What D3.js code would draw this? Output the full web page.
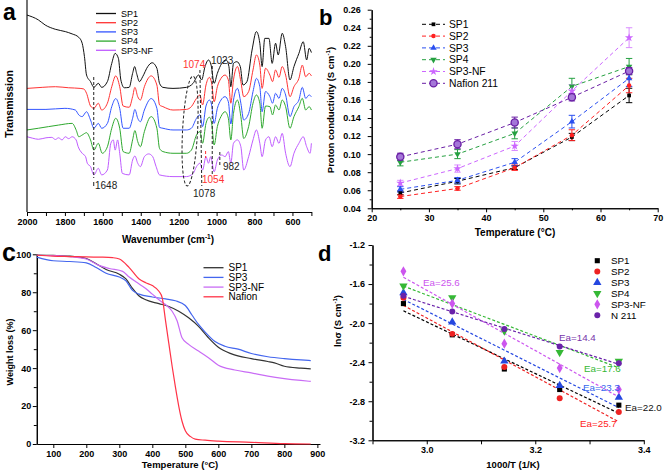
<!DOCTYPE html>
<html><head><meta charset="utf-8">
<script src="https://cdn.jsdelivr.net/npm/d3@7"></script>
<style>body{margin:0;background:#fff;} svg{display:block;}</style>
</head><body><svg id="chart" width="664" height="473"></svg>
<script>
// ---------------- DATA ----------------
// (a) FTIR spectra: [wavenumber cm-1, transmission (arb. units)]
const ftirSP1 = [[2000,92.9],[1940,90.6],[1904,88.2],[1851,86.2],[1798,85.1],[1762,84.0],[1727,82.4],[1709,79.6],[1697,73.3],[1686,64.6],[1665,61.5],[1647,58.8],[1624,60.7],[1606,58.8],[1576,61.5],[1553,70.1],[1535,74.8],[1518,72.5],[1505,62.3],[1487,58.6],[1461,58.8],[1443,65.4],[1432,68.6],[1422,65.4],[1407,61.5],[1390,63.8],[1363,68.6],[1340,70.4],[1315,67.8],[1301,60.7],[1283,58.8],[1230,58.3],[1159,58.8],[1124,60.7],[1095,64.6],[1079,62.3],[1061,68.6],[1043,71.7],[1029,69.3],[1013,60.7],[996,65.4],[973,70.1],[950,71.7],[935,68.6],[925,59.1],[911,70.1],[893,70.9],[875,68.6],[861,59.9],[840,61.5],[813,76.4],[790,85.1],[772,79.6],[760,68.6],[746,81.9],[724,81.9],[707,70.1],[689,79.6],[675,74.1],[654,84.3],[636,78.0],[613,62.3],[592,68.6],[566,74.8],[543,80.3],[525,71.7],[512,77.2],[500,75.2]];
const ftirSP2 = [[2000,58.3],[1920,58.8],[1850,59.1],[1780,58.6],[1720,58.3],[1700,58.0],[1686,56.0],[1665,50.0],[1647,48.9],[1624,51.3],[1606,48.1],[1576,51.3],[1553,59.1],[1532,64.2],[1511,59.1],[1493,50.0],[1461,49.4],[1443,54.4],[1431,58.8],[1416,54.4],[1402,52.8],[1381,59.1],[1345,64.2],[1315,59.9],[1301,50.5],[1283,49.7],[1230,48.1],[1159,48.4],[1133,49.7],[1106,53.6],[1088,55.2],[1074,50.5],[1056,59.9],[1038,63.5],[1026,60.7],[1013,52.0],[996,59.1],[977,63.0],[955,64.6],[938,62.3],[925,51.3],[911,62.3],[890,68.6],[872,61.5],[857,54.4],[831,56.8],[808,67.0],[790,74.1],[772,69.3],[760,58.3],[742,67.8],[719,64.6],[705,61.5],[689,67.0],[671,63.5],[654,68.6],[636,64.6],[613,54.4],[592,59.1],[566,63.0],[548,69.3],[530,63.8],[512,65.4],[500,64.2]];
const ftirSP3 = [[2000,48.4],[1900,48.4],[1800,48.9],[1745,48.1],[1727,45.8],[1709,45.0],[1686,47.3],[1665,43.4],[1647,39.5],[1624,41.8],[1606,39.5],[1576,41.8],[1553,49.7],[1532,53.5],[1511,48.9],[1493,39.5],[1461,39.5],[1443,44.2],[1431,48.4],[1416,44.2],[1402,42.6],[1381,48.1],[1345,53.5],[1315,48.9],[1301,39.9],[1283,39.5],[1230,38.7],[1159,38.7],[1133,39.5],[1106,44.2],[1088,45.8],[1074,40.3],[1056,50.0],[1038,52.8],[1026,50.5],[1013,41.8],[996,48.9],[977,52.8],[955,54.4],[938,52.0],[925,41.5],[911,52.8],[890,58.3],[872,51.3],[857,43.4],[831,46.5],[808,56.8],[790,63.0],[772,59.1],[760,47.3],[742,56.8],[719,54.4],[705,51.3],[689,56.0],[671,53.6],[654,58.3],[636,55.2],[613,45.0],[592,49.7],[566,52.8],[548,58.8],[530,53.6],[512,55.2],[500,54.4]];
const ftirSP4 = [[2000,38.7],[1940,39.5],[1834,41.0],[1762,41.8],[1740,38.5],[1727,35.5],[1709,36.3],[1686,37.4],[1665,34.0],[1647,29.2],[1624,32.4],[1603,27.7],[1576,30.8],[1553,39.5],[1532,44.2],[1511,39.5],[1493,28.5],[1461,27.7],[1443,34.0],[1431,38.4],[1416,33.2],[1402,30.8],[1381,37.9],[1345,45.0],[1315,39.5],[1301,30.0],[1283,28.5],[1230,27.7],[1159,27.7],[1133,29.2],[1106,36.3],[1088,37.9],[1074,32.4],[1056,41.8],[1038,44.7],[1026,41.8],[1013,31.6],[996,40.3],[977,45.0],[955,47.3],[938,44.2],[925,34.0],[911,46.5],[890,52.8],[872,45.0],[857,34.7],[831,40.3],[808,51.3],[790,55.2],[772,51.3],[760,39.5],[742,50.0],[719,49.7],[705,45.8],[689,50.5],[671,48.1],[654,52.8],[636,49.7],[613,39.5],[592,45.0],[566,49.7],[548,53.6],[530,48.1],[512,49.7],[500,48.1]];
const ftirSP3NF = [[2000,35.5],[1970,34.8],[1940,34.3],[1900,35.0],[1869,35.2],[1850,34.2],[1834,35.0],[1815,34.0],[1798,35.5],[1780,34.6],[1762,35.5],[1741,34.0],[1730,30.8],[1709,27.7],[1691,26.1],[1682,23.0],[1665,21.4],[1647,17.5],[1624,20.6],[1606,17.5],[1576,19.8],[1558,32.4],[1545,34.0],[1535,29.2],[1522,34.0],[1511,27.7],[1497,18.2],[1461,17.5],[1443,24.5],[1431,26.4],[1416,23.0],[1402,21.4],[1381,26.1],[1358,27.4],[1337,26.1],[1319,21.4],[1301,17.5],[1230,16.7],[1159,16.7],[1124,18.2],[1106,21.4],[1088,23.0],[1074,19.8],[1056,26.1],[1043,23.0],[1031,26.1],[1013,19.0],[996,24.5],[973,26.9],[955,26.1],[938,28.5],[925,23.0],[911,32.4],[890,34.0],[872,30.8],[857,19.8],[831,26.1],[808,34.0],[790,38.7],[772,32.4],[760,26.1],[742,34.0],[724,35.5],[707,30.8],[689,35.5],[671,32.4],[654,37.1],[636,27.7],[613,21.4],[592,27.7],[566,32.4],[543,35.5],[525,30.8],[507,27.7],[500,32.4]];
const ftirNames = ["SP1","SP2","SP3","SP4","SP3-NF"];
const ftirTickLabels = [2000,1800,1600,1400,1200,1000,800,600];
const ftirMinorTicks = [1900,1700,1500,1300,1100,900,700,500];

// (b) proton conductivity vs temperature
const temps = [25,35,45,55,65];
const condNames = ["SP1","SP2","SP3","SP4","SP3-NF","Nafion 211"];
const condSP1 = [0.057,0.070,0.085,0.119,0.165];
const condSP2 = [0.053,0.062,0.085,0.121,0.176];
const condSP3 = [0.061,0.071,0.091,0.136,0.184];
const condSP4 = [0.091,0.100,0.123,0.175,0.197];
const condSP3NF = [0.068,0.084,0.109,0.170,0.229];
const condN211 = [0.097,0.111,0.135,0.163,0.192];
const errSP1 = [0.002,0.003,0.002,0.004,0.008];
const errSP2 = [0.002,0.002,0.003,0.006,0.008];
const errSP3 = [0.003,0.003,0.004,0.007,0.009];
const errSP4 = [0.004,0.005,0.006,0.009,0.009];
const errSP3NF = [0.003,0.004,0.005,0.007,0.011];
const errN211 = [0.004,0.005,0.006,0.004,0.004];
const condTickLabels = [0.04,0.06,0.08,0.10,0.12,0.14,0.16,0.18,0.20,0.22,0.24,0.26];
const condMinorTicks = [0.05,0.07,0.09,0.11,0.13,0.15,0.17,0.19,0.21,0.23,0.25];
const tempTickLabels = [20,30,40,50,60,70];
const tempMinorTicks = [25,35,45,55,65];

// (c) TGA
const tgaNames = ["SP1","SP3","SP3-NF","Nafion"];
const tgaSP1 = [[50,99.6],[100,99.4],[150,99.0],[200,97.8],[230,95.0],[260,92.0],[300,89.5],[320,87.0],[340,82.0],[360,78.0],[380,76.0],[420,74.0],[450,72.5],[480,70.0],[510,66.5],[540,62.0],[570,56.0],[600,51.0],[640,47.5],[700,45.0],[750,43.5],[770,42.8],[800,41.0],[850,40.0],[880,39.6]];
const tgaSP3 = [[50,98.5],[100,96.6],[150,96.2],[200,95.5],[230,93.0],[260,90.0],[300,88.0],[320,86.0],[340,81.0],[360,79.0],[400,77.5],[440,76.5],[470,75.5],[500,73.0],[520,68.0],[540,63.0],[560,59.0],[590,54.0],[620,51.5],[660,50.0],[700,47.7],[750,46.0],[800,45.0],[850,44.3],[880,44.0]];
const tgaSP3NF = [[50,99.5],[100,99.3],[150,98.8],[200,97.5],[240,94.0],[270,92.5],[310,91.0],[330,88.0],[350,85.5],[380,82.0],[400,79.0],[420,76.0],[440,73.5],[460,70.0],[475,65.0],[490,56.0],[510,52.5],[540,49.0],[570,45.5],[600,41.5],[650,39.0],[700,37.5],[750,35.8],[800,34.5],[850,33.5],[880,33.0]];
const tgaNafion = [[50,99.5],[100,99.0],[150,98.8],[200,98.6],[250,98.5],[280,98.2],[300,97.5],[330,93.0],[360,87.0],[380,85.0],[400,83.5],[420,80.5],[430,77.0],[440,65.0],[450,53.0],[460,41.0],[470,30.0],[480,20.0],[490,12.0],[500,7.0],[515,4.0],[530,2.6],[560,2.0],[600,1.5],[700,0.9],[800,0.2],[880,0.0]];
const tgaXTicks = [100,200,300,400,500,600,700,800,900];
const tgaYTicks = [0,20,40,60,80,100];
const tgaYMinor = [10,30,50,70,90];

// (d) Arrhenius plot
const invT = [2.957,3.047,3.143,3.245,3.354];
const arrNames = ["SP1","SP2","SP3","SP4","SP3-NF","N 211"];
const lnSP1 = [-1.80,-2.12,-2.47,-2.68,-2.84];
const lnSP2 = [-1.74,-2.11,-2.45,-2.77,-2.91];
const lnSP3 = [-1.69,-1.99,-2.39,-2.64,-2.76];
const lnSP4 = [-1.62,-1.74,-2.08,-2.30,-2.39];
const lnSP3NF = [-1.47,-1.80,-2.21,-2.46,-2.68];
const lnN211 = [-1.72,-1.88,-2.06,-2.24,-2.41];
const eaLabels = ["Ea=22.0","Ea=25.7","Ea=23.3","Ea=17.6","Ea=25.6","Ea=14.4"];
const arrYTicks = [-3.2,-2.8,-2.4,-2.0,-1.6,-1.2];
const arrYMinor = [-3.0,-2.6,-2.2,-1.8,-1.4];
const arrXTicks = [3.0,3.2,3.4];
const arrXMinor = [2.9,3.1,3.3];

// ---------------- DRAW ----------------
const FONT = "Arial, 'Liberation Sans', sans-serif";
const svg = d3.select("#chart").attr("font-family", FONT);
svg.append("rect").attr("width",664).attr("height",473).attr("fill","#fff");

function styleAxis(g, fs){
  g.attr("font-family", FONT);
  g.select(".domain").attr("stroke","#000").attr("stroke-width",1.1);
  g.selectAll(".tick line").attr("stroke","#000").attr("stroke-width",1);
  g.selectAll(".tick text").attr("font-size",fs).attr("font-weight","bold").attr("fill","#000");
}
function addText(x,y,txt,opt={}){
  const t = svg.append("text").attr("x",x).attr("y",y).text(txt)
    .attr("font-size",opt.fs||10).attr("fill",opt.color||"#000")
    .attr("font-weight",opt.bold?"bold":"normal")
    .attr("text-anchor",opt.anchor||"start");
  if(opt.rotate) t.attr("transform",`rotate(-90,${x},${y})`);
  return t;
}
function titleWithSup(x,y,pre,sup,post,opt={}){
  const t = svg.append("text").attr("x",x).attr("y",y)
    .attr("font-size",opt.fs||10).attr("font-weight","bold").attr("text-anchor","middle").attr("fill","#000");
  if(opt.rotate) t.attr("transform",`rotate(-90,${x},${y})`);
  t.append("tspan").text(pre);
  if(sup){ t.append("tspan").text(sup).attr("font-size",(opt.fs||10)*0.65).attr("dy",-4);
           t.append("tspan").text(post).attr("dy",4); }
  return t;
}
function sym(type,size){
  const m = {square:d3.symbolSquare,circle:d3.symbolCircle,triangle:d3.symbolTriangle,tridown:d3.symbolTriangle,star:d3.symbolStar,diamond:d3.symbolDiamond};
  return d3.symbol().type(m[type]).size(size)();
}

// ===== Panel a =====
const xA = d3.scaleLinear().domain([2000,500]).range([27,311.4]);
const yA = d3.scaleLinear().domain([0,100]).range([212,0]);
const ftirColors = ["#111111","#ff3333","#3355ff","#2ea82e","#c05cff"];
const ftirData = [ftirSP1,ftirSP2,ftirSP3,ftirSP4,ftirSP3NF];
const lineA = d3.line().x(d=>xA(d[0])).y(d=>yA(d[1])).curve(d3.curveMonotoneX);
ftirData.forEach((s,i)=>{
  svg.append("path").attr("d",lineA(s)).attr("fill","none").attr("stroke",ftirColors[i]).attr("stroke-width",1);
});
// axes
svg.append("line").attr("x1",27).attr("x2",27).attr("y1",0).attr("y2",212).attr("stroke","#000").attr("stroke-width",1.1);
const gA = svg.append("g").attr("transform","translate(0,212)")
  .call(d3.axisBottom(xA).tickValues(ftirTickLabels).tickSize(4).tickPadding(2.5).tickSizeOuter(0).tickFormat(d3.format("d")));
styleAxis(gA,9);
const gA2 = svg.append("g").attr("transform","translate(0,212)")
  .call(d3.axisBottom(xA).tickValues(ftirMinorTicks).tickSize(4).tickSizeOuter(0).tickFormat(""));
styleAxis(gA2,9);
titleWithSup(168,243,"Wavenumber (cm","-1",")",{fs:10});
addText(13,104,"Transmission",{bold:true,fs:10.5,anchor:"middle",rotate:true});
// legend a
ftirNames.forEach((n,i)=>{
  const y = 13.5 + i*9.2;
  svg.append("line").attr("x1",96).attr("x2",116).attr("y1",y).attr("y2",y).attr("stroke",ftirColors[i]).attr("stroke-width",1.3);
  addText(121,y+3.2,n,{fs:9});
});
// annotations
const dashA = "3,2";
svg.append("line").attr("x1",xA(1648)).attr("x2",xA(1648)).attr("y1",77).attr("y2",178).attr("stroke","#222").attr("stroke-dasharray",dashA).attr("stroke-width",1);
svg.append("line").attr("x1",xA(1648)).attr("x2",xA(1648)).attr("y1",182).attr("y2",186).attr("stroke","#222").attr("stroke-width",1);
addText(95,189,"1648",{fs:10,color:"#222"});
svg.append("ellipse").attr("cx",xA(1140)).attr("cy",131).attr("rx",7.5).attr("ry",55)
  .attr("transform",`rotate(3,${xA(1140)},131)`)
  .attr("fill","none").attr("stroke","#222").attr("stroke-dasharray",dashA).attr("stroke-width",1);
svg.append("line").attr("x1",xA(1088)).attr("x2",xA(1078)).attr("y1",70).attr("y2",186).attr("stroke","#222").attr("stroke-dasharray",dashA).attr("stroke-width",1);
svg.append("line").attr("x1",xA(1023)).attr("x2",xA(1023)).attr("y1",66).attr("y2",174).attr("stroke","#222").attr("stroke-dasharray",dashA).attr("stroke-width",1);
svg.append("line").attr("x1",xA(1058)).attr("x2",xA(1058)).attr("y1",151).attr("y2",158).attr("stroke","#ff3333").attr("stroke-dasharray",dashA).attr("stroke-width",1);
svg.append("line").attr("x1",xA(983)).attr("x2",xA(983)).attr("y1",152).attr("y2",166).attr("stroke","#222").attr("stroke-dasharray",dashA).attr("stroke-width",1);
addText(183,68,"1074",{fs:10,color:"#ff3333"});
addText(211,64,"1023",{fs:10,color:"#222"});
addText(202,183,"1054",{fs:10,color:"#ff3333"});
addText(223,170,"982",{fs:10,color:"#222"});
addText(193,197,"1078",{fs:10,color:"#222"});
addText(3,19.5,"a",{bold:true,fs:23});

// ===== Panel b =====
const xB = d3.scaleLinear().domain([20,70]).range([371.7,657.7]);
const yB = d3.scaleLinear().domain([0.04,0.26]).range([208.3,9.7]);
const bColors = ["#000000","#ff2020","#2a4ff0","#25a040","#cc66ff","#6a1fa5"];
const bSyms = ["square","circle","triangle","tridown","star","circle"];
const bVals = [condSP1,condSP2,condSP3,condSP4,condSP3NF,condN211];
const bErrs = [errSP1,errSP2,errSP3,errSP4,errSP3NF,errN211];
const gBy = svg.append("g").attr("transform","translate(371.7,0)")
  .call(d3.axisLeft(yB).tickValues(condTickLabels).tickSize(4).tickPadding(7).tickSizeOuter(0).tickFormat(d3.format(".2f")));
styleAxis(gBy,9);
const gBy2 = svg.append("g").attr("transform","translate(371.7,0)")
  .call(d3.axisLeft(yB).tickValues(condMinorTicks).tickSize(2).tickSizeOuter(0).tickFormat(""));
styleAxis(gBy2,9);
const gBx = svg.append("g").attr("transform","translate(0,208.3)")
  .call(d3.axisBottom(xB).tickValues(tempTickLabels).tickSize(4).tickPadding(2).tickSizeOuter(0));
styleAxis(gBx,9);
const gBx2 = svg.append("g").attr("transform","translate(0,208.3)")
  .call(d3.axisBottom(xB).tickValues(tempMinorTicks).tickSize(2).tickSizeOuter(0).tickFormat(""));
styleAxis(gBx2,9);
addText(515,236,"Temperature (°C)",{bold:true,fs:10,anchor:"middle"});
titleWithSup(334,110,"Proton conductivity (S cm","-1",")",{fs:9.5,rotate:true});

const lineB = d3.line().x((d,i)=>xB(temps[i])).y(d=>yB(d));
bVals.forEach((vals,k)=>{
  svg.append("path").attr("d",lineB(vals)).attr("fill","none").attr("stroke",bColors[k]).attr("stroke-width",1).attr("stroke-dasharray","4,3");
});
bVals.forEach((vals,k)=>{
  const c = k===4 ? "#d98cff" : bColors[k];
  vals.forEach((v,i)=>{
    const x = xB(temps[i]), y1 = yB(v-bErrs[k][i]), y2 = yB(v+bErrs[k][i]);
    svg.append("line").attr("x1",x).attr("x2",x).attr("y1",y1).attr("y2",y2).attr("stroke",c).attr("stroke-width",1);
    svg.append("line").attr("x1",x-3.2).attr("x2",x+3.2).attr("y1",y1).attr("y2",y1).attr("stroke",c).attr("stroke-width",1);
    svg.append("line").attr("x1",x-3.2).attr("x2",x+3.2).attr("y1",y2).attr("y2",y2).attr("stroke",c).attr("stroke-width",1);
  });
});
function bMarker(k,x,y){
  if(k===5){
    svg.append("circle").attr("cx",x).attr("cy",y).attr("r",3.6).attr("fill","#a476d8").attr("stroke",bColors[k]).attr("stroke-width",1.3);
  } else {
    const size = {0:14,1:16,2:18,3:18,4:22}[k];
    svg.append("path").attr("d",sym(bSyms[k],size))
      .attr("transform",`translate(${x},${y})${k===3?" rotate(180)":""}`).attr("fill",bColors[k]);
  }
}
bVals.forEach((vals,k)=>vals.forEach((v,i)=>bMarker(k,xB(temps[i]),yB(v))));
condNames.forEach((n,k)=>{
  const y = 24.3 + k*11.8;
  svg.append("line").attr("x1",422).attr("x2",445).attr("y1",y).attr("y2",y).attr("stroke",bColors[k]).attr("stroke-width",1).attr("stroke-dasharray","4,3");
  bMarker(k,433.5,y);
  addText(449,y+3.6,n,{fs:10.3});
});
addText(319,25,"b",{bold:true,fs:22});

// ===== Panel c =====
const xC = d3.scaleLinear().domain([50,908]).range([36.8,320]);
const yC = d3.scaleLinear().domain([0,100]).range([444,254.3]);
const cColors = ["#333333","#4466ee","#c96cf5","#ff3347"];
const cData = [tgaSP1,tgaSP3,tgaSP3NF,tgaNafion];
const gCy = svg.append("g").attr("transform","translate(36.8,0)")
  .call(d3.axisLeft(yC).tickValues(tgaYTicks).tickSize(4).tickPadding(1.5).tickSizeOuter(0));
styleAxis(gCy,9);
const gCy2 = svg.append("g").attr("transform","translate(36.8,0)")
  .call(d3.axisLeft(yC).tickValues(tgaYMinor).tickSize(3).tickSizeOuter(0).tickFormat(""));
styleAxis(gCy2,9);
const gCx = svg.append("g").attr("transform","translate(0,444)")
  .call(d3.axisBottom(xC).tickValues(tgaXTicks).tickSize(4).tickPadding(3).tickSizeOuter(0));
styleAxis(gCx,9);
const lineC = d3.line().x(d=>xC(d[0])).y(d=>yC(d[1])).curve(d3.curveMonotoneX);
cData.forEach((s,i)=>{
  svg.append("path").attr("d",lineC(s)).attr("fill","none").attr("stroke",cColors[i]).attr("stroke-width",1.2);
});
tgaNames.forEach((n,i)=>{
  const y = 267.7 + i*9.7;
  svg.append("line").attr("x1",203.5).attr("x2",223.5).attr("y1",y).attr("y2",y).attr("stroke",cColors[i]).attr("stroke-width",1.3);
  addText(228.5,y+3.5,n,{fs:10});
});
addText(180,468,"Temperature (°C)",{bold:true,fs:9.5,anchor:"middle"});
addText(13,352,"Weight loss (%)",{bold:true,fs:9,anchor:"middle",rotate:true});
addText(2,261,"c",{bold:true,fs:25});

// ===== Panel d =====
const xD = d3.scaleLinear().domain([2.9,3.4]).range([372.5,643.8]);
const yD = d3.scaleLinear().domain([-3.2,-1.2]).range([440.3,245]);
const dColors = ["#000000","#ee2222","#2547e0","#35b835","#cc55ee","#6a22aa"];
const dSyms = ["square","circle","triangle","tridown","diamond","circle"];
const dVals = [lnSP1,lnSP2,lnSP3,lnSP4,lnSP3NF,lnN211];
const gDy = svg.append("g").attr("transform","translate(372.5,0)")
  .call(d3.axisLeft(yD).tickValues(arrYTicks).tickSize(4).tickPadding(3.5).tickSizeOuter(0).tickFormat(d3.format(".1f")));
styleAxis(gDy,9);
gDy.selectAll(".tick text").text(d=>d3.format(".1f")(d).replace("−","-"));
const gDy2 = svg.append("g").attr("transform","translate(372.5,0)")
  .call(d3.axisLeft(yD).tickValues(arrYMinor).tickSize(3).tickSizeOuter(0).tickFormat(""));
styleAxis(gDy2,9);
const gDx = svg.append("g").attr("transform","translate(0,440.3)")
  .call(d3.axisBottom(xD).tickValues(arrXTicks).tickSize(4).tickPadding(2.5).tickSizeOuter(0).tickFormat(d3.format(".1f")));
styleAxis(gDx,9);
const gDx2 = svg.append("g").attr("transform","translate(0,440.3)")
  .call(d3.axisBottom(xD).tickValues(arrXMinor).tickSize(4).tickSizeOuter(0).tickFormat(""));
styleAxis(gDx2,9);
// least-squares fit lines
function fit(xs,ys){
  const mx = d3.mean(xs), my = d3.mean(ys);
  let sxy=0,sxx=0; xs.forEach((x,i)=>{sxy+=(x-mx)*(ys[i]-my); sxx+=(x-mx)*(x-mx);});
  const b = sxy/sxx; return x=>my+b*(x-mx);
}
const xLo = invT[0], xHi = invT[invT.length-1];
dVals.forEach((vals,k)=>{
  const f = fit(invT,vals);
  svg.append("line").attr("x1",xD(xLo)).attr("x2",xD(xHi)).attr("y1",yD(f(xLo))).attr("y2",yD(f(xHi)))
    .attr("stroke",dColors[k]).attr("stroke-width",1.2).attr("stroke-dasharray","3,2");
});
function dMarker(k,x,y){
  const size = {0:26,1:28,2:30,3:30,4:30,5:28}[k];
  svg.append("path").attr("d",sym(dSyms[k],size))
    .attr("transform",`translate(${x},${y})${k===3?" rotate(180)":""}`).attr("fill",dColors[k]);
}
dVals.forEach((vals,k)=>vals.forEach((v,i)=>dMarker(k,xD(invT[i]),yD(v))));
arrNames.forEach((n,k)=>{
  const y = 260.7 + k*10.9;
  dMarker(k,597.3,y);
  addText(611,y+3.5,n,{fs:9.8});
});
// Ea labels
addText(423,286,eaLabels[4],{fs:9.8,color:"#cc55ee"});
addText(559,341,eaLabels[5],{fs:9.8,color:"#7733aa"});
addText(584,372,eaLabels[3],{fs:9.8,color:"#35b835"});
addText(583,391,eaLabels[2],{fs:9.8,color:"#3366ee"});
addText(625,411,eaLabels[0],{fs:9.8,color:"#111"});
addText(580,427,eaLabels[1],{fs:9.8,color:"#ff2222"});
addText(513,468,"1000/T (1/K)",{bold:true,fs:9.5,anchor:"middle"});
titleWithSup(341,321,"lnσ (S cm","-1",")",{fs:9.5,rotate:true});
addText(318,261,"d",{bold:true,fs:22});
</script></body></html>
